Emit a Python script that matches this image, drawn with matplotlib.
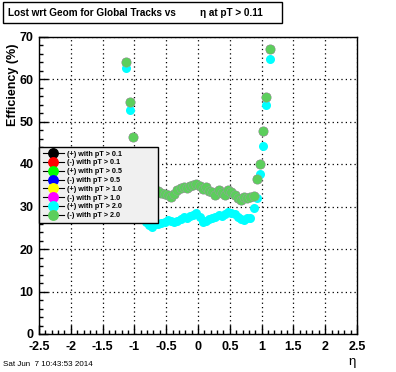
import matplotlib
matplotlib.use("Agg")
import matplotlib.pyplot as plt
from matplotlib.lines import Line2D
from matplotlib.patches import Rectangle

plt.rcParams['font.family'] = ['Liberation Sans', 'DejaVu Sans']

# eta bin centres
eta = [-1.125, -1.075, -1.025, -0.975, -0.925, -0.875, -0.825, -0.775, -0.725, -0.675,
       -0.625, -0.575, -0.525, -0.475, -0.425, -0.375, -0.325, -0.275, -0.225, -0.175,
       -0.125, -0.075, -0.025, 0.025, 0.075, 0.125, 0.175, 0.225, 0.275, 0.325,
       0.375, 0.425, 0.475, 0.525, 0.575, 0.625, 0.675, 0.725, 0.775, 0.825,
       0.875, 0.925, 0.975, 1.025, 1.075, 1.125]

# (-) with pT > 2.0  (the lower pT series sit underneath these points)
eff_neg = [63.9, 54.7, 46.4, 40.0, 36.5, 34.5, 33.8, 33.5, 33.2, 33.4,
           33.6, 33.2, 33.0, 32.6, 32.3, 33.0, 34.0, 34.3, 34.6, 34.4,
           34.8, 35.0, 35.2, 34.8, 34.2, 34.5, 33.6, 33.3, 32.6, 33.8,
           33.2, 32.8, 33.9, 33.4, 32.7, 32.0, 31.5, 32.2, 32.0, 32.3,
           32.5, 36.4, 39.9, 47.8, 55.7, 67.1]

# (+) with pT > 2.0
eff_pos = [62.7, 52.7, 40.0, 34.0, 30.5, 27.5, 26.3, 25.6, 25.2, 25.8,
           26.0, 26.2, 26.4, 26.8, 26.7, 26.4, 26.6, 27.0, 27.6, 27.4,
           27.7, 28.0, 28.4, 27.6, 26.4, 26.6, 27.0, 27.3, 27.6, 28.0,
           27.8, 28.3, 28.6, 28.5, 28.2, 27.6, 27.0, 26.9, 27.3, 27.2,
           29.7, 31.9, 37.6, 44.2, 53.9, 64.6]

labels = ["(+) with pT > 0.1", "(-) with pT > 0.1", "(+) with pT > 0.5", "(-) with pT > 0.5",
          "(+) with pT > 1.0", "(-) with pT > 1.0", "(+) with pT > 2.0", "(-) with pT > 2.0"]
colors = ["black", "red", "#00ff00", "blue", "yellow", "magenta", "cyan", "#5cce5c"]
series = [eff_neg, eff_neg, eff_neg, eff_neg, eff_neg, eff_neg, eff_pos, eff_neg]

W, H = 396, 372
fig = plt.figure(figsize=(W / 100, H / 100), dpi=100)
ax = fig.add_axes([39 / W, 1 - 334 / H, 318 / W, 297.5 / H])

for vals, c in zip(series, colors):
    if c == "#5cce5c":
        ax.plot(eta, vals, linestyle="none", marker="o", ms=6.9, mfc=c, mec="#a494ac",
                mew=0.3, zorder=3)
    else:
        ax.plot(eta, vals, linestyle="none", marker="o", ms=6.5, mfc=c, mec=c, mew=0, zorder=3)

ax.set_xlim(-2.5, 2.5)
ax.set_ylim(0, 70)
ax.set_xticks([-2.5, -2, -1.5, -1, -0.5, 0, 0.5, 1, 1.5, 2, 2.5])
ax.set_xticklabels(["-2.5", "-2", "-1.5", "-1", "-0.5", "0", "0.5", "1", "1.5", "2", "2.5"])
ax.set_xticks([i / 10 for i in range(-25, 26)], minor=True)
ax.set_yticks(range(0, 71, 10))
ax.set_yticks(range(0, 71, 2), minor=True)
ax.tick_params(which="both", direction="in", top=False, right=False, width=1)
ax.tick_params(which="major", length=6.5, labelsize=9)
ax.tick_params(axis="x", which="major", pad=5)
ax.tick_params(axis="y", which="major", pad=4)
ax.tick_params(which="minor", length=3.2)
for lab in ax.get_xticklabels() + ax.get_yticklabels():
    lab.set_fontweight("bold")
ax.grid(True, which="major", color="black", linestyle=(0, (1, 2.5)), linewidth=0.9)
ax.set_axisbelow(True)
for sp in ax.spines.values():
    sp.set_linewidth(1)

handles = [Line2D([0], [0], color="black", lw=0.8, marker="o", ms=6.8, mfc=c, mec=c)
           for c in colors]
leg = ax.legend(handles, labels, loc="upper left", mode="expand",
                bbox_to_anchor=(39 / W, 1 - 147 / H, 119 / W, 0), bbox_transform=fig.transFigure,
                prop={"size": 5.2, "weight": "bold"}, borderpad=0.5, handlelength=3.0,
                handletextpad=0.4, labelspacing=0.24, borderaxespad=0, fancybox=False,
                framealpha=1, facecolor="#f0f0f0", edgecolor="black")
leg.get_frame().set_linewidth(1)
leg.set_zorder(5)

fig.patches.append(Rectangle((3 / W, 1 - 23 / H), 279 / W, 21 / H, transform=fig.transFigure,
                             facecolor="white", edgecolor="black", lw=1))
fig.text(8 / W, 1 - 12.5 / H, "Lost wrt Geom for Global Tracks vs", fontsize=7.2,
         fontweight="bold", va="center", ha="left")
fig.text(200 / W, 1 - 12.5 / H, "η at pT > 0.11", fontsize=7.2, fontweight="bold",
         va="center", ha="left")

fig.text(13 / W, 1 - 44 / H, "Efficiency (%)", rotation=90, fontsize=9, fontweight="bold",
         ha="center", va="top")
fig.text(352 / W, 1 - 362 / H, "η", fontsize=9.5, ha="center", va="center")
fig.text(3 / W, 1 - 364 / H, "Sat Jun  7 10:43:53 2014", fontsize=5.8, ha="left", va="center")

fig.savefig("out.png", dpi=100)
